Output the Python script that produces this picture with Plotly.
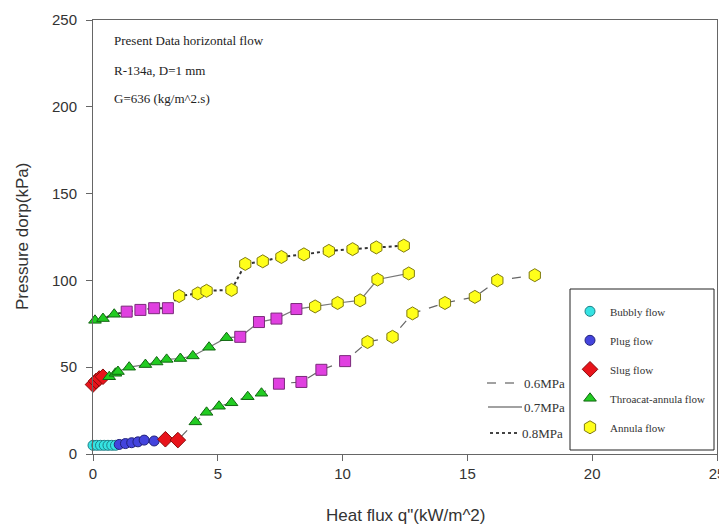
import plotly.graph_objects as go

# ---------------- data ----------------
p06_x = [0.0, 0.15, 0.3, 0.45, 0.6, 0.75, 0.9,
         1.05, 1.3, 1.55, 1.8, 2.05, 2.45,
         2.9, 3.4,
         4.1, 4.55, 5.05, 5.55, 6.2, 6.75,
         7.45, 8.35, 9.15, 10.1,
         11.0, 12.0, 12.8, 14.1, 15.3, 16.2, 17.7]
p06_y = [5, 5, 5, 5, 5, 5, 5,
         5.5, 6, 6.5, 7, 8, 7.5,
         8.5, 8,
         18.5, 24, 27.5, 29.5, 33, 35,
         40.5, 41.5, 48.5, 53.5,
         64.5, 67.5, 81, 87, 90.5, 100, 103]
p06_reg = ["B"] * 7 + ["P"] * 6 + ["S"] * 2 + ["T"] * 6 + ["C"] * 4 + ["A"] * 7

p07_x = [0.0, 0.12, 0.25, 0.4,
         0.65, 0.9, 1.0, 1.45, 2.1, 2.55, 2.95, 3.5, 4.0, 4.65, 5.35,
         5.9, 6.65, 7.35, 8.15,
         8.9, 9.8, 10.7, 11.4, 12.65]
p07_y = [40, 42, 43.5, 44.5,
         44.5, 46.5, 47.5, 50, 51.5, 53, 54.5, 55, 56.5, 61.5, 67,
         67.5, 76, 78, 83.5,
         85, 87, 88.5, 100.5, 104]
p07_reg = ["S"] * 4 + ["T"] * 11 + ["C"] * 4 + ["A"] * 5

p08_x = [0.08, 0.4, 0.85,
         1.35, 1.9, 2.45, 3.0,
         3.45, 4.2, 4.55, 5.55, 6.1, 6.8, 7.55, 8.45, 9.45, 10.4, 11.35, 12.45]
p08_y = [77, 78, 80.5,
         82, 83, 84, 84,
         91, 92.5, 94, 94.5, 109.5, 111, 113.5, 115, 117, 118, 119, 120]
p08_reg = ["T"] * 3 + ["C"] * 4 + ["A"] * 12

regime_names = {"B": "Bubbly flow", "P": "Plug flow", "S": "Slug flow",
                "T": "Throacat-annula flow", "C": "Churn flow", "A": "Annula flow"}
pressure_labels = ["0.6MPa", "0.7MPa", "0.8MPa"]
annotation_lines = ["Present Data horizontal flow", "R-134a, D=1 mm", "G=636 (kg/m^2.s)"]
x_title = 'Heat flux q"(kW/m^2)'
y_title = "Pressure dorp(kPa)"

# ---------------- styles ----------------
reg_style = {
    "B": dict(symbol="circle", color="#35E3E3", line="#1E7F86", size=10),
    "P": dict(symbol="circle", color="#4444DD", line="#22227A", size=10),
    "S": dict(symbol="diamond", color="#E8141B", line="#8A0A0A", size=12),
    "T": dict(symbol="triangle-up", color="#22CC22", line="#116611", size=11),
    "C": dict(symbol="square", color="#E040E0", line="#7A2A7A", size=11),
    "A": dict(symbol="hexagon", color="#FFFF1A", line="#7F7A10", size=13),
}
line_style = [dict(color="#666666", width=1.2, dash="dash"),
              dict(color="#777777", width=1.2, dash="solid"),
              dict(color="#333333", width=2, dash="dot")]

series = [(p06_x, p06_y, p06_reg), (p07_x, p07_y, p07_reg), (p08_x, p08_y, p08_reg)]

fig = go.Figure()

for (xs, ys, _), ls, lab in zip(series, line_style, pressure_labels):
    fig.add_trace(go.Scatter(x=xs, y=ys, mode="lines", line=ls, name=lab,
                             showlegend=False, hoverinfo="skip"))

order = ["B", "P", "S", "T", "A", "C"]
for r in order:
    xs_all, ys_all = [], []
    for xs, ys, regs in series:
        for x, y, g in zip(xs, ys, regs):
            if g == r:
                xs_all.append(x)
                ys_all.append(y)
    st = reg_style[r]
    fig.add_trace(go.Scatter(
        x=xs_all, y=ys_all, mode="markers", name=regime_names[r],
        legendgroup=r, showlegend=(r != "C"), cliponaxis=False,
        marker=dict(symbol=st["symbol"], color=st["color"], size=st["size"],
                    line=dict(color=st["line"], width=1)),
    ))

# ---------------- layout ----------------
W, H = 727, 531
OFF = 8  # page body offset
# target plot area in page pixels: x 93..717, y 20..454
PL, PR, PT, PB = 93, 717, 20, 454
pw, ph = PR - PL, PB - PT
ml, mt = PL - OFF, PT - OFF
mr, mb = W - ml - pw, H - mt - ph


def px(xp):
    return (xp - PL) / pw


def py(yp):
    return (PB - yp) / ph


serif = "Liberation Serif, Times New Roman, serif"
sans = "Liberation Sans, Arial, sans-serif"

annotations = []
for txt, yp in zip(annotation_lines, [41, 71, 98]):
    annotations.append(dict(x=px(112), y=py(yp), xref="paper", yref="paper",
                            text=txt, showarrow=False, xanchor="left", yanchor="middle",
                            font=dict(family=serif, size=13, color="#222")))

shapes = [dict(type="rect", xref="paper", yref="paper", layer="above",
               x0=px(570), x1=px(714), y0=py(450), y1=py(289),
               fillcolor="white", line=dict(color="#222", width=1))]
for lab, ls, yp, (x0, x1) in zip(pressure_labels, line_style, [383, 407, 433],
                                 [(487, 522), (488, 522), (490, 520)]):
    shapes.append(dict(type="line", xref="paper", yref="paper",
                       x0=px(x0), x1=px(x1), y0=py(yp), y1=py(yp),
                       line=dict(color="#444", width=ls["width"], dash=ls["dash"])))
    annotations.append(dict(x=px(x1), y=py(yp), xref="paper", yref="paper",
                            text=lab, showarrow=False, xanchor="left", yanchor="middle",
                            font=dict(family=serif, size=13, color="#333")))

annotations.append(dict(x=px(405), y=py(515), xref="paper", yref="paper", text=x_title,
                        showarrow=False, xanchor="center", yanchor="middle",
                        font=dict(family=sans, size=17, color="#333")))
annotations.append(dict(x=px(22), y=py(237), xref="paper", yref="paper", text=y_title,
                        showarrow=False, xanchor="center", yanchor="middle", textangle=-90,
                        font=dict(family=sans, size=17, color="#333")))

fig.update_layout(
    width=W, height=H,
    margin=dict(l=ml, r=mr, t=mt, b=mb, autoexpand=False),
    paper_bgcolor="white", plot_bgcolor="white",
    showlegend=True,
    legend=dict(x=px(570), y=py(289), xanchor="left", yanchor="top",
                borderwidth=0, bgcolor="rgba(0,0,0,0)",
                font=dict(family=serif, size=11, color="#333"),
                title=dict(text=" ", font=dict(size=6)),
                tracegroupgap=10, itemwidth=30),
    annotations=annotations,
    shapes=shapes,
    xaxis=dict(range=[0, 25], dtick=5, tick0=0, showgrid=False, zeroline=False,
               showline=True, linecolor="#666", linewidth=1, mirror=True,
               ticks="outside", ticklen=6, tickcolor="#666", automargin=False,
               tickfont=dict(family=sans, size=15, color="#333")),
    yaxis=dict(range=[0, 250], dtick=50, tick0=0, showgrid=False, zeroline=False,
               showline=True, linecolor="#666", linewidth=1, mirror=True,
               ticks="outside", ticklen=6, tickcolor="#666", automargin=False,
               ticklabelstandoff=6,
               tickfont=dict(family=sans, size=15, color="#333")),
)

fig.write_html("out.html")
